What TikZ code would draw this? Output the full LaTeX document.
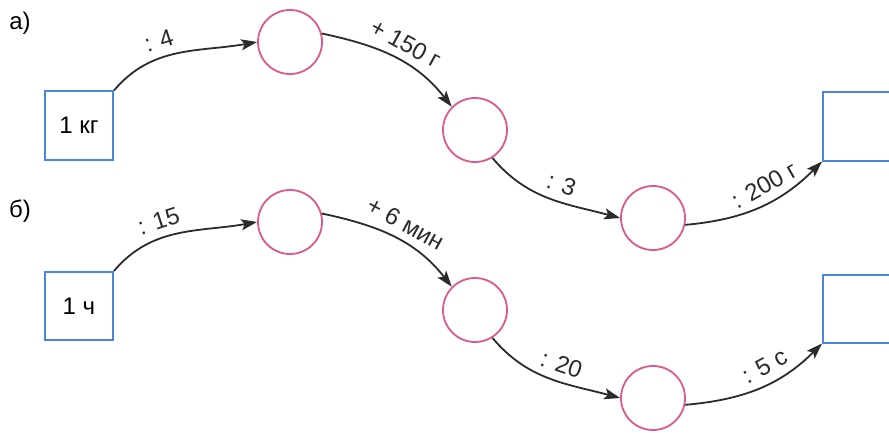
\documentclass[tikz,border=0pt]{standalone}
\usepackage{fontspec}
\setmainfont{Liberation Sans}
\usepackage{tikz}
\usetikzlibrary{arrows.meta}
\usepackage{xcolor}
\definecolor{arrowgray}{HTML}{2B2B2B}
\definecolor{boxblue}{HTML}{4A86DC}
\definecolor{ringpink}{HTML}{DC5A8C}

\begin{document}
\begin{tikzpicture}[x=1pt,y=1pt,
      arr/.style={-{Stealth[length=16pt,width=11pt,inset=3.5pt]},arrowgray,line width=1.8pt},
      box/.style={draw=boxblue,line width=2pt,minimum size=68pt,inner sep=0pt,
                  font=\fontsize{24}{28}\selectfont},
      ring/.style={draw=ringpink,circle,line width=1.8pt,minimum size=64pt,inner sep=0pt},
      lbl/.style={sloped,above,inner sep=8pt,font=\fontsize{24}{28}\selectfont},
      part/.style={font=\fontsize{24}{28}\selectfont}]
    \clip (0,0) rectangle (889,432);
    \fill[white] (0,0) rectangle (889,432);
    % а)
    \node[part] (pa) at (20,409) {а)};
    \node[box] (a0) at (79,306.5) {1 кг};
    \node[ring] (a1) at (290,390) {};
    \node[ring] (a2) at (475,302) {};
    \node[ring] (a3) at (653,214) {};
    \node[box] (a4) at (857,305.5) {};
    \draw[arr] (a0.north east) to[out=50,in=190] node[lbl,pos=0.4] {: 4} (a1.west);
    \draw[arr] (a1.15) to[out=-12,in=128] node[lbl,pos=0.52] {+ 150 г} (a2.135);
    \draw[arr] (a2.-58) to[out=-50,in=165] node[lbl,pos=0.55] {: 3} (a3.west);
    \draw[arr] (a3.-12) to[out=5,in=225] node[lbl,pos=0.6] {: 200 г} (a4.south west);
    % б)
    \node[part] (pb) at (20,221) {б)};
    \node[box] (b0) at (79,126) {1 ч};
    \node[ring] (b1) at (290,210) {};
    \node[ring] (b2) at (475,122) {};
    \node[ring] (b3) at (653,34) {};
    \node[box] (b4) at (857,123.5) {};
    \draw[arr] (b0.north east) to[out=50,in=190] node[lbl,pos=0.4] {: 15} (b1.west);
    \draw[arr] (b1.15) to[out=-12,in=128] node[lbl,pos=0.52] {+ 6 мин} (b2.135);
    \draw[arr] (b2.-58) to[out=-50,in=165] node[lbl,pos=0.55] {: 20} (b3.west);
    \draw[arr] (b3.-12) to[out=5,in=225] node[lbl,pos=0.6] {: 5 с} (b4.south west);
  \end{tikzpicture}
\end{document}
